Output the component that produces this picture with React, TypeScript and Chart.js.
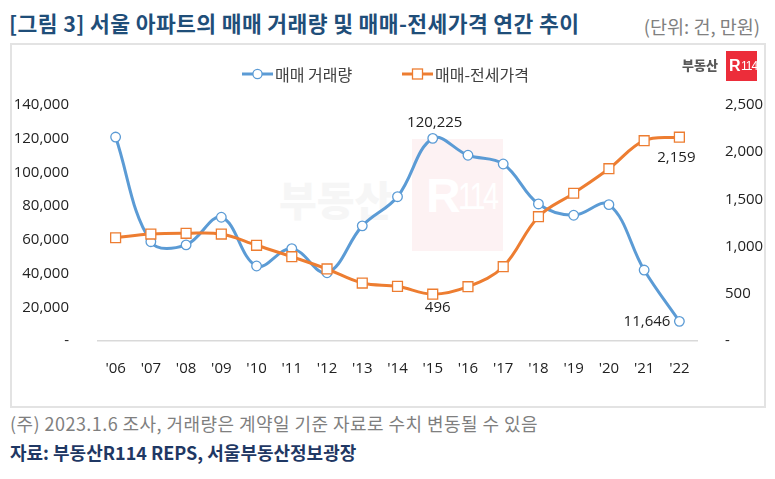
import React, { useEffect, useRef } from "react";
import { Chart, registerables } from "chart.js";

Chart.register(...registerables);

const years = ["'06", "'07", "'08", "'09", "'10", "'11", "'12", "'13", "'14", "'15", "'16", "'17", "'18", "'19", "'20", "'21", "'22"];
const tradeVolume = [121000, 58900, 57000, 73400, 44500, 54800, 40500, 68300, 85600, 120225, 110200, 105000, 81300, 74600, 80900, 42100, 11646];
const priceGap = [1094, 1133, 1141, 1133, 1014, 893, 763, 614, 579, 496, 575, 787, 1317, 1565, 1825, 2122, 2159];
const seriesNames = ["매매 거래량", "매매-전세가격"];
const leftAxisMax = 140000;
const leftAxisStep = 20000;
const rightAxisMax = 2500;
const rightAxisStep = 500;

const BLUE = "#5B9BD5";
const ORANGE = "#ED7D31";
const FONT = "'Open Sans', 'Noto Sans CJK KR', sans-serif";
const KFONT = "'Noto Sans CJK KR', 'Open Sans', sans-serif";

// which points get a value label, and where relative to the point
const valueLabels = [
  { dataset: 0, index: 9, dx: 2, dy: -16, align: "center" },
  { dataset: 1, index: 9, dx: 5, dy: 14, align: "center" },
  { dataset: 1, index: 16, dx: -3, dy: 21, align: "center" },
  { dataset: 0, index: 16, dx: -9, dy: 0, align: "right" },
];

const fmt = (v: number) => (v === 0 ? "-" : v.toLocaleString("en-US"));

const labelPlugin = {
  id: "valueLabels",
  afterDatasetsDraw(chart: any) {
    const ctx = chart.ctx;
    ctx.save();
    ctx.font = `15px ${FONT}`;
    ctx.fillStyle = "#222222";
    ctx.textBaseline = "middle";
    valueLabels.forEach((l) => {
      const pt = chart.getDatasetMeta(l.dataset).data[l.index];
      const v = chart.data.datasets[l.dataset].data[l.index];
      ctx.textAlign = l.align;
      ctx.fillText(fmt(v), pt.x + l.dx, pt.y + l.dy);
    });
    ctx.restore();
  },
};

function ChartCanvas() {
  const ref = useRef<HTMLCanvasElement>(null);
  useEffect(() => {
    if (!ref.current) return;
    const chart = new Chart(ref.current, {
      type: "line",
      data: {
        labels: years,
        datasets: [
          {
            label: seriesNames[0],
            data: tradeVolume,
            yAxisID: "yL",
            borderColor: BLUE,
            borderWidth: 3,
            tension: 0.38,
            pointStyle: "circle",
            pointRadius: 4.8,
            pointBackgroundColor: "#ffffff",
            pointBorderColor: BLUE,
            pointBorderWidth: 1.3,
            order: 1,
          },
          {
            label: seriesNames[1],
            data: priceGap,
            yAxisID: "yR",
            borderColor: ORANGE,
            borderWidth: 3,
            tension: 0.38,
            pointStyle: "rect",
            pointRadius: 7,
            pointBackgroundColor: "#ffffff",
            pointBorderColor: ORANGE,
            pointBorderWidth: 1.3,
            order: 0,
          },
        ],
      },
      options: {
        animation: false,
        responsive: false,
        maintainAspectRatio: false,
        devicePixelRatio: 1,
        layout: { padding: { left: 0, right: 0, top: 105, bottom: 98 } },
        plugins: { legend: { display: false }, tooltip: { enabled: false } },
        scales: {
          x: {
            type: "category",
            offset: true,
            grid: { display: false },
            border: { display: true, color: "#d9d9d9", width: 1.5 },
            ticks: { padding: 11, color: "#222222", font: { size: 15, family: FONT }, maxRotation: 0, autoSkip: false },
            afterFit: (s: any) => { s.height = 40; },
          },
          yL: {
            type: "linear",
            position: "left",
            min: 0,
            max: leftAxisMax,
            grid: { display: false },
            border: { display: false },
            ticks: { stepSize: leftAxisStep, padding: 21, color: "#222222", font: { size: 15, family: FONT }, callback: (v: any) => fmt(Number(v)) },
            afterFit: (s: any) => { s.width = 98; },
          },
          yR: {
            type: "linear",
            position: "right",
            min: 0,
            max: rightAxisMax,
            grid: { display: false },
            border: { display: false },
            ticks: { stepSize: rightAxisStep, padding: 20, color: "#222222", font: { size: 15, family: FONT }, callback: (v: any) => fmt(Number(v)) },
            afterFit: (s: any) => { s.width = 78; },
          },
        },
      },
      plugins: [labelPlugin],
    });
    return () => chart.destroy();
  }, []);
  return <canvas ref={ref} width={775} height={479} style={{ position: "absolute", left: 0, top: 0, width: 775, height: 479, zIndex: 2 }} />;
}

function LegendItem({ x, color, marker, text }: { x: number; color: string; marker: "circle" | "rect"; text: string }) {
  return (
    <div style={{ position: "absolute", left: x, top: 62, height: 24, display: "flex", alignItems: "center", zIndex: 3 }}>
      <svg width={31} height={24} style={{ display: "block" }}>
        <line x1={0} y1={12} x2={31} y2={12} stroke={color} strokeWidth={3} />
        {marker === "circle" ? (
          <circle cx={15.5} cy={12} r={4.6} fill="#fff" stroke={color} strokeWidth={1.3} />
        ) : (
          <rect x={10.5} y={7} width={10} height={10} fill="#fff" stroke={color} strokeWidth={1.3} />
        )}
      </svg>
      <span style={{ marginLeft: 2, fontFamily: KFONT, fontSize: 16, color: "#404040", lineHeight: "24px", whiteSpace: "nowrap" }}>{text}</span>
    </div>
  );
}

export default function App() {
  return (
    <div style={{ position: "absolute", left: 0, top: 0, width: 775, height: 479, background: "#ffffff", overflow: "hidden" }}>
      <div style={{ position: "absolute", left: 9, top: 10, fontFamily: KFONT, fontWeight: 700, fontSize: 21.5, letterSpacing: 0.4, lineHeight: "26px", color: "#1F4E79", whiteSpace: "nowrap" }}>
        [그림 3] 서울 아파트의 매매 거래량 및 매매-전세가격 연간 추이
      </div>
      <div style={{ position: "absolute", right: 15, top: 13, fontFamily: KFONT, fontSize: 18.5, lineHeight: "26px", color: "#808080", whiteSpace: "nowrap" }}>
        (단위: 건, 만원)
      </div>
      <div style={{ position: "absolute", left: 10, top: 43, width: 752, height: 361, border: "2px solid #e3e3e3", zIndex: 1 }} />
      {/* watermark */}
      <div style={{ position: "absolute", left: 279, top: 168, fontFamily: KFONT, fontWeight: 900, fontSize: 41, lineHeight: "60px", color: "#f6f6f6", whiteSpace: "nowrap", zIndex: 1 }}>부동산</div>
      <div style={{ position: "absolute", left: 412, top: 139, width: 91, height: 112, background: "#fdf2f3", zIndex: 1, overflow: "hidden" }}>
        <div style={{ position: "absolute", left: 14, top: 33, fontFamily: "'Liberation Sans', sans-serif", fontWeight: 700, fontSize: 48, lineHeight: "48px", color: "#ffffff" }}>R</div>
        <div style={{ position: "absolute", left: 46, top: 40, fontFamily: "'Liberation Sans Narrow', 'Liberation Sans', sans-serif", fontSize: 36, lineHeight: "36px", color: "#ffffff", letterSpacing: -3, transform: "scaleX(0.8)", transformOrigin: "left top" }}>114</div>
      </div>
      {/* logo */}
      <div style={{ position: "absolute", left: 682, top: 56, fontFamily: KFONT, fontWeight: 900, fontSize: 13, lineHeight: "18px", color: "#595959", whiteSpace: "nowrap", zIndex: 3 }}>부동산</div>
      <div style={{ position: "absolute", left: 726, top: 51, width: 31, height: 30, background: "#EC2D3A", zIndex: 3, overflow: "hidden" }}>
        <span style={{ position: "absolute", left: 3, top: 6, fontFamily: "'Liberation Sans', sans-serif", fontWeight: 700, fontSize: 16, lineHeight: "18px", color: "#fff" }}>R</span>
        <span style={{ position: "absolute", left: 15, top: 8, fontFamily: "'Liberation Sans Narrow', 'Liberation Sans', sans-serif", fontSize: 12, lineHeight: "14px", color: "#fff", letterSpacing: -1 }}>114</span>
      </div>
      <LegendItem x={242} color={BLUE} marker="circle" text={seriesNames[0]} />
      <LegendItem x={402} color={ORANGE} marker="rect" text={seriesNames[1]} />
      <ChartCanvas />
      <div style={{ position: "absolute", left: 10, top: 410, fontFamily: KFONT, fontSize: 18, letterSpacing: 0.45, lineHeight: "26px", color: "#7f7f7f", whiteSpace: "nowrap" }}>
        (주) 2023.1.6 조사, 거래량은 계약일 기준 자료로 수치 변동될 수 있음
      </div>
      <div style={{ position: "absolute", left: 10, top: 439, fontFamily: KFONT, fontWeight: 700, fontSize: 18, lineHeight: "26px", color: "#1F3864", whiteSpace: "nowrap" }}>
        자료: 부동산R114 REPS, 서울부동산정보광장
      </div>
    </div>
  );
}
